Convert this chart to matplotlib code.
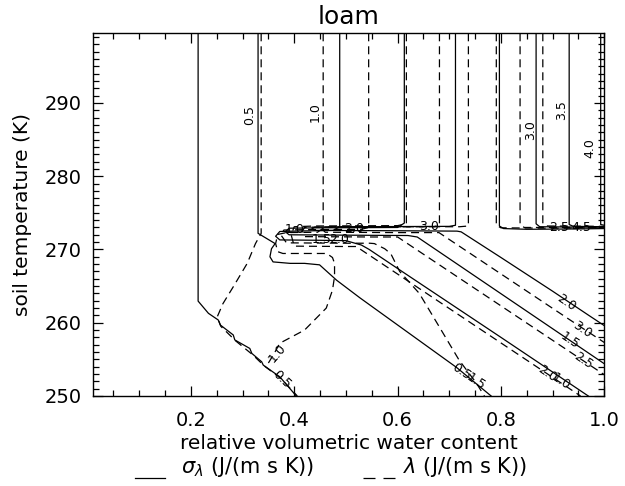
import matplotlib
matplotlib.use('Agg')
import matplotlib.pyplot as plt
from matplotlib.lines import Line2D
from matplotlib.ticker import MultipleLocator, FormatStrFormatter

plt.rcParams['font.family'] = ['DejaVu Sans']

T_TOP = 299.5

# sigma_lambda contours (solid): relative water content, soil temperature (K)
sig_a_x = [0.214, 0.214, 0.234, 0.253, 0.257, 0.282, 0.285, 0.314, 0.318, 0.337, 0.340, 0.372, 0.404]
sig_a_T = [T_TOP, 262.95, 261.28, 260.37, 259.69, 258.33, 257.65, 256.49, 255.81, 254.67, 254.22, 252.62, 250.0]

sig_05_x = [0.330, 0.330, 0.363, 0.356, 0.353, 0.359, 0.392, 0.420, 0.449, 0.482, 0.527, 0.714, 0.781]
sig_05_T = [T_TOP, 272.2, 270.8, 270.1, 269.0, 268.3, 268.1, 268.1, 267.9, 265.8, 263.4, 253.9, 250.0]

sig_10_x = [0.488, 0.488, 0.475, 0.40, 0.372, 0.364, 0.372, 0.45, 0.50, 0.53, 0.545, 0.60, 0.70, 0.80, 0.874, 0.969]
sig_10_T = [T_TOP, 273.1, 272.6, 272.5, 272.45, 271.8, 271.3, 271.25, 271.2, 270.6, 270.0, 267.4, 262.7, 258.0, 254.5, 250.0]

sig_15_x = [0.613, 0.613, 0.60, 0.45, 0.39, 0.383, 0.39, 0.50, 0.62, 0.638, 0.70, 0.80, 0.90, 1.0]
sig_15_T = [T_TOP, 273.6, 273.0, 272.95, 272.9, 272.4, 272.0, 271.95, 271.9, 271.7, 268.74, 263.96, 259.18, 254.4]

sig_20_x = [0.712, 0.712, 0.70, 0.50, 0.44, 0.434, 0.44, 0.60, 0.715, 0.723, 0.80, 0.90, 0.97, 1.0]
sig_20_T = [T_TOP, 273.3, 273.15, 273.1, 273.05, 272.8, 272.6, 272.55, 272.5, 272.4, 268.9, 264.3, 261.0, 259.6]

sig_25_x = [0.797, 0.797, 0.805, 0.85, 0.95, 1.0]
sig_25_T = [T_TOP, 273.2, 272.85, 272.75, 272.8, 272.85]

sig_30_x = [0.868, 0.868, 0.875, 0.95, 1.0]
sig_30_T = [T_TOP, 273.5, 273.1, 273.05, 273.05]

sig_35_x = [0.932, 0.932, 0.94, 1.0]
sig_35_T = [T_TOP, 273.4, 273.15, 273.1]

sig_40_x = [0.993, 0.993, 1.0]
sig_40_T = [T_TOP, 273.4, 273.3]

# lambda contours (dashed)
lam_05_x = [0.336, 0.336, 0.325, 0.309, 0.282, 0.262, 0.251, 0.258, 0.287, 0.320, 0.342, 0.374, 0.406]
lam_05_T = [T_TOP, 272.2, 270.8, 268.1, 264.9, 262.6, 260.8, 259.5, 257.5, 255.6, 254.1, 252.4, 250.0]

lam_10_x = [0.456, 0.456, 0.445, 0.385, 0.368, 0.364, 0.368, 0.378, 0.463, 0.474, 0.478, 0.478,
            0.474, 0.462, 0.420, 0.372, 0.362, 0.350]
lam_10_T = [T_TOP, 272.9, 272.35, 272.3, 272.05, 270.8, 269.7, 269.45, 269.45, 268.9, 268.1, 266.3,
            264.45, 262.0, 259.0, 257.2, 255.9, 254.5]

lam_15_x = [0.544, 0.544, 0.53, 0.42, 0.38, 0.374, 0.385, 0.50, 0.546, 0.555, 0.575, 0.587,
            0.604, 0.642, 0.681, 0.719, 0.752, 0.768]
lam_15_T = [T_TOP, 273.0, 272.75, 272.7, 272.65, 272.0, 270.9, 270.85, 270.85, 270.8, 270.1, 269.4,
            267.0, 264.0, 259.4, 254.9, 251.8, 250.0]

lam_20_x = [0.617, 0.617, 0.60, 0.44, 0.40, 0.394, 0.40, 0.50, 0.52, 0.87, 0.954]
lam_20_T = [T_TOP, 273.5, 273.25, 273.2, 273.1, 272.0, 270.45, 270.4, 270.4, 253.95, 250.0]

lam_25_x = [0.681, 0.681, 0.67, 0.44, 0.42, 0.415, 0.42, 0.55, 0.60, 0.95, 1.0]
lam_25_T = [T_TOP, 273.3, 273.1, 273.05, 273.0, 272.4, 271.75, 271.7, 271.7, 255.25, 252.9]

lam_30_x = [0.737, 0.737, 0.72, 0.48, 0.46, 0.455, 0.46, 0.60, 0.68, 0.93, 1.0]
lam_30_T = [T_TOP, 273.2, 273.1, 273.1, 273.05, 272.7, 272.35, 272.3, 272.3, 260.55, 257.3]

lam_35_x = [0.791, 0.791, 0.80, 0.90, 1.0]
lam_35_T = [T_TOP, 273.3, 272.95, 272.9, 272.95]

lam_40_x = [0.837, 0.837, 0.845, 0.92, 1.0]
lam_40_T = [T_TOP, 273.4, 273.0, 273.0, 273.0]

lam_45_x = [0.881, 0.881, 0.89, 1.0]
lam_45_T = [T_TOP, 273.5, 273.2, 273.15]

sigma_lines = [(sig_a_x, sig_a_T), (sig_05_x, sig_05_T), (sig_10_x, sig_10_T), (sig_15_x, sig_15_T),
               (sig_20_x, sig_20_T), (sig_25_x, sig_25_T), (sig_30_x, sig_30_T), (sig_35_x, sig_35_T),
               (sig_40_x, sig_40_T)]
lambda_lines = [(lam_05_x, lam_05_T), (lam_10_x, lam_10_T), (lam_15_x, lam_15_T), (lam_20_x, lam_20_T),
                (lam_25_x, lam_25_T), (lam_30_x, lam_30_T), (lam_35_x, lam_35_T), (lam_40_x, lam_40_T),
                (lam_45_x, lam_45_T)]

# contour labels: text, x, T, rotation
contour_labels = [
    ('0.5', 0.313, 288.3, 90), ('1.0', 0.440, 288.7, 90), ('3.0', 0.857, 286.3, 90),
    ('3.5', 0.918, 289.0, 90), ('4.0', 0.972, 283.8, 90),
    ('1.0', 0.400, 272.75, 0), ('2.0', 0.515, 272.9, 0), ('3.0', 0.660, 273.1, 0),
    ('1.5', 0.452, 271.4, 0), ('2.0', 0.487, 271.4, 0),
    ('2.5', 0.913, 273.0, 0), ('4.5', 0.955, 273.0, 0),
    ('0.5', 0.724, 253.3, -34), ('1.5', 0.752, 252.0, -34),
    ('2.0', 0.926, 262.7, -34), ('3.0', 0.957, 259.0, -34), ('1.5', 0.934, 257.5, -34),
    ('2.5', 0.960, 254.8, -34), ('2.0', 0.889, 253.0, -34), ('1.0', 0.916, 252.0, -34),
    ('1.0', 0.367, 255.9, 50), ('0.5', 0.376, 252.2, -44),
]

fig = plt.figure(figsize=(6.25, 4.86), dpi=100)
ax = fig.add_axes([0.1483, 0.1852, 0.8186, 0.7463])

for x, T in sigma_lines:
    ax.plot(x, T, color='black', lw=0.9, solid_joinstyle='round')
for x, T in lambda_lines:
    ax.plot(x, T, color='black', lw=0.9, linestyle=(0, (6.4, 4.0)))

for txt, x, T, rot in contour_labels:
    ax.text(x, T, txt, fontsize=9, rotation=rot, ha='center', va='center',
            rotation_mode='anchor')

ax.set_xlim(0.01, 1.0)
ax.set_ylim(250, 299.5)
ax.xaxis.set_major_locator(MultipleLocator(0.2))
ax.xaxis.set_minor_locator(MultipleLocator(0.05))
ax.xaxis.set_major_formatter(FormatStrFormatter('%.1f'))
ax.yaxis.set_major_locator(MultipleLocator(10))
ax.yaxis.set_minor_locator(MultipleLocator(1))
ax.tick_params(which='both', direction='in', top=True, right=True, labelsize=14, width=0.9)
ax.tick_params(which='major', length=7, pad=11)
ax.tick_params(which='minor', length=4)
ax.tick_params(axis='y', which='major', pad=8)
for s in ax.spines.values():
    s.set_linewidth(1.0)

ax.set_title('loam', fontsize=18, pad=7)
ax.set_xlabel('relative volumetric water content', fontsize=14.5, labelpad=3)
ax.set_ylabel('soil temperature (K)', fontsize=14.5, labelpad=9)

# legend line underneath the x title
fig.add_artist(Line2D([135 / 625, 165 / 625], [1 - 478 / 486] * 2, color='black', lw=0.9))
fig.text(181 / 625, 1 - 467 / 486, r'$\sigma_\lambda$ (J/(m s K))', fontsize=15, va='center')
fig.add_artist(Line2D([363 / 625, 395 / 625], [1 - 478 / 486] * 2, color='black', lw=0.9,
                      linestyle=(0, (9.6, 6.4))))
fig.text(403 / 625, 1 - 467 / 486, r'$\lambda$ (J/(m s K))', fontsize=15, va='center')

fig.savefig('out.png', dpi=100)
